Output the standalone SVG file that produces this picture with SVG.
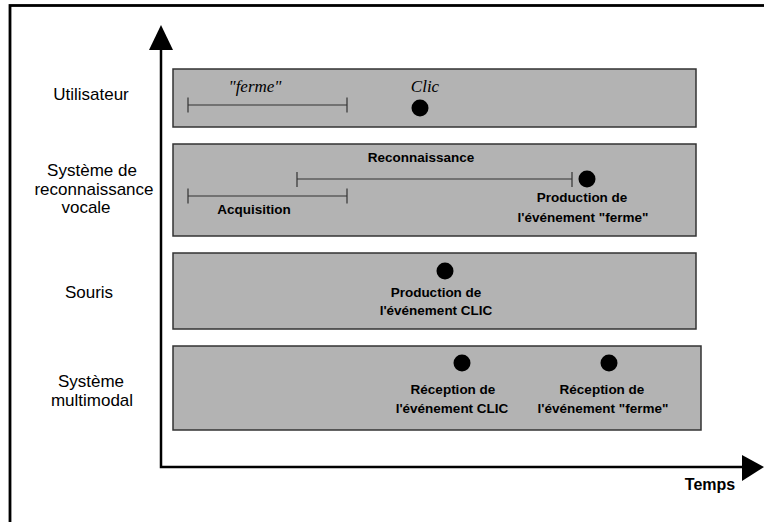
<svg xmlns="http://www.w3.org/2000/svg" width="764" height="522" viewBox="0 0 764 522">
  <style>
    .lane { fill: #b3b3b3; stroke: #333333; stroke-width: 1.5; }
    .label { font-family: "Liberation Sans", Arial, sans-serif; font-size: 17px; fill: #000; text-anchor: middle; }
    .bold { font-family: "Liberation Sans", Arial, sans-serif; font-size: 13.5px; font-weight: bold; fill: #000; text-anchor: middle; }
    .word { font-family: "Liberation Serif", "Times New Roman", serif; font-size: 17px; font-style: italic; fill: #000; text-anchor: middle; }
    .span { stroke: #333333; stroke-width: 1.2; fill: none; }
    .event { fill: #000; }
    .axis { stroke: #000; stroke-width: 2.5; fill: none; }
    .head { fill: #000; }
  </style>

  <rect x="0" y="0" width="764" height="522" fill="#ffffff"/>
  <!-- outer frame, running past the right and bottom edges -->
  <rect x="10" y="5.5" width="800" height="600" fill="none" stroke="#000" stroke-width="2.8"/>

  <!-- time axes -->
  <g id="axes">
    <path class="axis" d="M161 48 V467 H744"/>
    <polygon class="head" points="149,50 161,25 173,50"/>
    <polygon class="head" points="742,455 764,467 742,481"/>
    <text class="bold" x="710" y="490" style="font-size:16px">Temps</text>
  </g>

  <!-- lane: user -->
  <g id="utilisateur">
    <text class="label" x="91" y="100">Utilisateur</text>
    <rect class="lane" x="173" y="69" width="523" height="58"/>
    <text class="word" x="255" y="92">"ferme"</text>
    <path class="span" d="M188 105 H347 M188 97.5 V112.5 M347 97.5 V112.5"/>
    <text class="word" x="425" y="92">Clic</text>
    <circle class="event" cx="420" cy="108" r="8.5"/>
  </g>

  <!-- lane: speech recognition -->
  <g id="reconnaissance-vocale">
    <text class="label" x="92" y="176">Système de</text>
    <text class="label" x="94" y="195">reconnaissance</text>
    <text class="label" x="86" y="213">vocale</text>
    <rect class="lane" x="173" y="144" width="523" height="92"/>
    <text class="bold" x="421" y="162">Reconnaissance</text>
    <path class="span" d="M297 179 H572 M297 172 V187 M572 172 V187"/>
    <circle class="event" cx="587" cy="179" r="8.5"/>
    <text class="bold" x="582" y="202">Production de</text>
    <text class="bold" x="583" y="222">l'événement "ferme"</text>
    <path class="span" d="M188 196 H347 M188 188.5 V203.5 M347 188.5 V203.5"/>
    <text class="bold" x="254" y="214">Acquisition</text>
  </g>

  <!-- lane: mouse -->
  <g id="souris">
    <text class="label" x="89" y="298">Souris</text>
    <rect class="lane" x="173" y="253" width="523" height="76"/>
    <circle class="event" cx="445" cy="271" r="8.5"/>
    <text class="bold" x="436" y="297">Production de</text>
    <text class="bold" x="436" y="315">l'événement CLIC</text>
  </g>

  <!-- lane: multimodal system -->
  <g id="systeme-multimodal">
    <text class="label" x="91" y="387">Système</text>
    <text class="label" x="92" y="406">multimodal</text>
    <rect class="lane" x="173" y="346" width="528" height="84"/>
    <circle class="event" cx="462" cy="363" r="8.5"/>
    <text class="bold" x="453" y="394">Réception de</text>
    <text class="bold" x="452" y="413">l'événement CLIC</text>
    <circle class="event" cx="609" cy="363" r="8.5"/>
    <text class="bold" x="602" y="394">Réception de</text>
    <text class="bold" x="603" y="413">l'événement "ferme"</text>
  </g>
</svg>
